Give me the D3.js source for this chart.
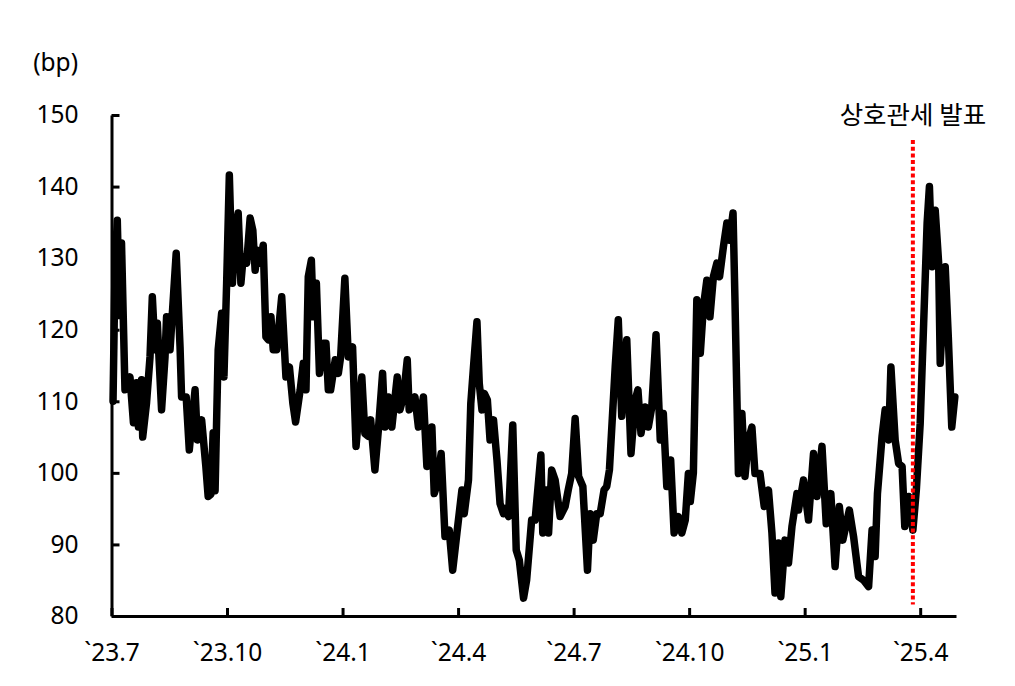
<!DOCTYPE html>
<html>
<head>
<meta charset="utf-8">
<script src="https://cdn.jsdelivr.net/npm/d3@7"></script>
<style>
  html, body { margin: 0; padding: 0; background: #fff; }
  svg { display: block; }
  text { font-family: "Noto Sans CJK KR", "Noto Sans", sans-serif; fill: #000; }
</style>
</head>
<body>
<div id="chart"></div>
<script>
// ---- data (months since 2023-07-01, spread in bp) ----
const monthOffset = [
  0.04,0.09,0.15,0.21,0.26,0.35,0.48,0.57,0.65,0.70,0.78,0.81,0.91,1.00,1.06,1.13,1.19,1.30,1.39,1.43,
  1.52,1.68,1.78,1.82,1.94,2.02,2.17,2.23,2.34,2.45,2.51,2.58,2.64,2.69,2.77,2.86,2.92,2.99,3.06,3.14,
  3.21,3.29,3.36,3.42,3.51,3.60,3.67,3.73,3.79,3.86,3.94,4.01,4.07,4.14,4.20,4.29,4.42,4.53,4.62,4.71,
  4.78,4.90,4.98,5.05,5.11,5.19,5.24,5.32,5.40,5.50,5.57,5.63,5.69,5.81,5.89,5.95,6.06,6.15,6.26,6.35,
  6.50,6.58,6.67,6.73,6.84,6.93,7.04,7.10,7.19,7.28,7.42,7.49,7.58,7.68,7.73,7.88,7.97,8.10,8.19,8.32,
  8.38,8.44,8.56,8.66,8.77,8.86,8.97,9.10,9.16,9.27,9.33,9.40,9.49,9.55,9.62,9.68,9.76,9.83,9.92,10.01,
  10.09,10.18,10.22,10.31,10.42,10.51,10.59,10.70,10.78,10.91,11.00,11.15,11.20,11.29,11.35,11.43,11.52,11.65,11.78,11.86,
  11.95,12.04,12.13,12.24,12.36,12.43,12.51,12.60,12.69,12.79,12.86,12.93,13.08,13.16,13.25,13.38,13.49,13.60,13.67,13.75,
  13.86,13.94,14.03,14.14,14.25,14.33,14.42,14.52,14.61,14.72,14.81,14.90,14.98,15.03,15.11,15.20,15.29,15.37,15.46,15.54,
  15.63,15.72,15.79,15.89,15.98,16.05,16.14,16.19,16.28,16.37,16.45,16.54,16.63,16.71,16.84,16.95,17.06,17.15,17.23,17.32,
  17.38,17.49,17.58,17.67,17.80,17.84,17.97,18.10,18.23,18.32,18.45,18.56,18.68,18.79,18.90,18.99,19.16,19.27,19.40,19.53,
  19.66,19.75,19.83,19.89,20.01,20.09,20.18,20.24,20.35,20.44,20.53,20.60,20.70,20.81,20.90,21.00,21.09,21.18,21.24,21.31,
  21.39,21.48,21.52,21.65,21.73,21.82,21.90
];
const spreadBp = [
  110.0,128.0,135.3,122.0,132.1,111.6,113.4,107.0,112.6,106.4,113.0,105.0,109.8,116.2,124.6,117.2,120.9,108.8,116.2,121.8,
  117.2,130.7,117.6,110.6,110.6,103.2,111.6,104.6,107.4,100.9,96.7,97.0,105.6,97.5,117.2,122.3,113.4,126.5,141.6,126.5,
  133.9,136.3,126.5,130.2,129.3,135.6,133.9,128.3,131.1,129.3,131.8,119.0,118.6,121.8,117.2,117.2,124.6,113.4,114.8,109.7,
  107.1,111.6,115.3,111.6,127.4,129.7,121.8,126.5,113.9,118.1,118.1,111.6,111.6,115.8,113.9,116.2,127.2,116.2,117.6,103.7,
  113.4,105.5,105.1,107.4,100.4,106.0,113.9,106.4,110.6,106.4,113.4,108.8,110.6,115.8,108.8,110.6,106.4,110.6,100.9,106.4,
  97.1,98.1,102.7,91.1,92.0,86.4,91.6,97.6,94.3,99.0,109.7,114.8,121.1,112.5,108.8,111.1,110.2,104.6,107.4,101.8,
  95.7,94.3,95.0,93.9,106.7,89.2,87.8,82.5,85.0,93.4,93.4,102.5,91.6,97.6,91.6,100.4,99.0,93.9,95.3,97.6,
  99.9,107.6,99.5,98.1,86.4,94.3,90.6,94.3,94.3,97.6,98.1,100.4,114.8,121.4,107.9,118.6,102.7,110.2,111.6,105.5,
  109.2,106.4,109.2,119.3,104.6,108.3,98.1,101.8,91.6,93.9,91.6,93.4,99.9,96.0,100.0,124.2,116.7,123.2,126.9,121.8,
  127.4,129.3,127.4,131.6,134.9,132.5,136.3,124.2,99.9,108.3,99.5,104.6,106.4,99.9,99.9,95.3,97.6,91.6,83.2,90.2,
  82.7,90.6,87.4,92.5,97.1,94.8,99.0,93.4,102.7,96.7,103.7,92.9,97.1,86.9,95.3,90.6,94.8,91.1,85.5,85.0,
  84.1,92.0,88.3,97.1,105.1,108.8,104.6,114.8,104.6,101.3,100.9,92.5,96.7,92.0,97.6,106.9,120.9,134.9,140.0,128.8,
  136.7,129.3,115.3,128.8,119.0,106.4,110.6
];
const xTickMonths = [0, 3, 6, 9, 12, 15, 18, 21];
const xTickLabels = ["`23.7", "`23.10", "`24.1", "`24.4", "`24.7", "`24.10", "`25.1", "`25.4"];
const yTicks = [80, 90, 100, 110, 120, 130, 140, 150];
const unitLabel = "(bp)";
const eventMonth = 20.81;
const eventLabel = "상호관세 발표";

// ---- layout ----
const W = 1015, H = 686;
const margin = { left: 111.5, right: 59, top: 115, bottom: 70 };
const xMax = 21.93;
const latinFont = "'Noto Sans', 'Noto Sans CJK KR', sans-serif";

const svg = d3.select("#chart").append("svg").attr("width", W).attr("height", H);

const x = d3.scaleLinear().domain([0, xMax]).range([margin.left, W - margin.right]);
const y = d3.scaleLinear().domain([80, 150]).range([H - margin.bottom, margin.top]);

// line
const pts = monthOffset.map((m, i) => [m, spreadBp[i]]);
const line = d3.line().x(d => x(d[0])).y(d => y(d[1]));

svg.append("path")
  .datum(pts)
  .attr("d", line)
  .attr("fill", "none")
  .attr("stroke", "#000")
  .attr("stroke-width", 7.5)
  .attr("stroke-linejoin", "round")
  .attr("stroke-linecap", "round");

// event marker
svg.append("line")
  .attr("x1", x(eventMonth)).attr("x2", x(eventMonth))
  .attr("y1", 140).attr("y2", y(81.6))
  .attr("stroke", "#ff0000")
  .attr("stroke-width", 4)
  .attr("stroke-dasharray", "4,2.7");

svg.append("text")
  .attr("x", x(eventMonth))
  .attr("y", 115)
  .attr("dy", "0.35em")
  .attr("text-anchor", "middle")
  .style("font-size", "25.5px")
  .text(eventLabel);

// axes
const xAxis = d3.axisBottom(x)
  .tickValues(xTickMonths)
  .tickFormat((d, i) => xTickLabels[i])
  .tickSizeInner(-8).tickSizeOuter(0).tickPadding(28);

const yAxis = d3.axisLeft(y)
  .tickValues(yTicks)
  .tickFormat(d3.format("d"))
  .tickSizeInner(-8).tickSizeOuter(0).tickPadding(33);

const gx = svg.append("g").attr("transform", `translate(0,${y(80)})`).call(xAxis);
const gy = svg.append("g").attr("transform", `translate(${margin.left},0)`).call(yAxis);

[gx, gy].forEach(g => {
  g.select(".domain").attr("stroke", "#000").attr("stroke-width", 3);
  g.selectAll(".tick line").attr("stroke", "#000").attr("stroke-width", 3);
  g.selectAll(".tick text")
    .style("font-family", latinFont)
    .style("font-size", "24.5px")
    .attr("fill", "#000");
});

svg.append("text")
  .attr("x", 78)
  .attr("y", 62)
  .attr("dy", "0.35em")
  .attr("text-anchor", "end")
  .style("font-family", latinFont)
  .style("font-size", "24.5px")
  .text(unitLabel);
</script>
</body>
</html>
